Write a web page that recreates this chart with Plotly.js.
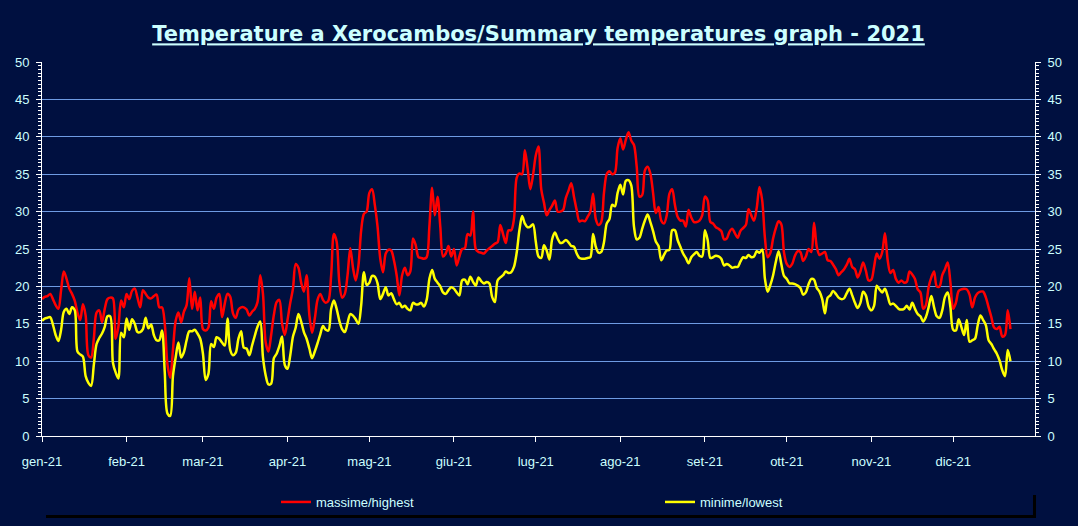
<!DOCTYPE html>
<html>
<head>
<meta charset="utf-8">
<script src="https://cdn.plot.ly/plotly-3.0.1.min.js"></script>
<style>
html,body{margin:0;padding:0;background:#001040;}
#chart{width:1078px;height:526px;}
</style>
</head>
<body>
<div id="chart"></div>
<script>
// Daily values from 1 Jan 2021 (day 0) to 22 Dec 2021
const highest = [
18.3,18.6,18.7,19.0,18.3,17.5,17.0,19.5,22.0,21.0,
19.7,19.0,18.1,16.5,15.5,17.6,16.1,10.8,10.5,13.0,
16.5,16.8,15.2,17.0,18.3,18.5,18.4,13.0,14.6,18.1,
17.2,19.0,18.3,19.4,19.7,18.5,17.2,19.5,19.0,18.5,
18.4,18.7,18.9,17.2,17.2,15.0,9.5,7.8,11.5,15.4,
16.5,15.2,16.6,17.5,21.1,17.0,19.3,16.8,18.5,14.3,
14.1,14.5,18.0,17.0,18.5,19.0,15.9,17.7,19.0,18.6,
16.4,15.8,16.9,17.2,17.2,16.9,16.1,16.6,17.0,17.9,
21.5,19.0,12.5,11.3,13.5,16.2,17.9,18.2,15.0,13.5,
15.5,17.8,19.7,23.0,22.5,20.5,19.3,21.5,16.2,13.8,
15.7,18.2,19.0,18.2,17.8,18.1,21.5,27.0,26.0,20.5,
18.5,19.0,21.5,25.1,22.5,20.8,22.8,27.5,29.7,30.0,
32.5,33.0,30.9,28.0,23.7,21.9,24.4,24.9,24.8,23.5,
21.5,18.8,21.5,22.5,21.5,22.0,26.4,25.5,23.9,23.8,
23.7,23.9,28.0,33.2,29.5,32.0,28.0,24.0,24.4,25.4,
24.0,25.0,22.8,24.0,25.0,25.1,27.0,26.8,30.0,25.0,
24.6,24.5,24.4,24.8,25.1,25.4,25.7,25.9,28.2,27.0,
25.8,27.5,27.5,29.0,34.5,35.1,35.0,38.2,35.8,33.0,
34.9,37.5,38.7,33.0,31.2,29.5,30.2,30.8,31.5,30.0,
30.0,30.2,31.8,32.8,33.8,32.0,30.2,28.7,28.8,28.7,
29.3,30.0,32.4,29.0,28.2,28.6,32.5,35.0,35.4,35.0,
35.2,38.5,39.8,38.3,39.6,40.6,39.5,38.9,36.0,32.0,
32.2,35.5,36.0,35.1,32.5,29.8,30.6,28.8,28.4,29.5,
32.4,33.0,30.9,29.3,28.8,28.8,28.0,30.2,29.2,28.6,
28.6,28.8,29.5,32.0,31.5,28.6,28.4,27.9,27.7,27.4,
26.3,26.4,27.3,27.7,27.1,26.5,27.4,27.8,28.2,30.3,
29.5,28.8,30.5,33.3,31.5,26.5,23.9,24.5,26.4,27.8,
28.7,28.3,24.5,23.0,22.6,23.0,24.1,24.7,24.6,23.4,
24.0,25.0,24.6,28.5,25.3,24.2,24.4,24.6,23.5,23.4,
22.9,22.3,21.5,21.9,22.3,22.9,23.7,22.6,22.3,21.2,
22.0,23.2,22.1,20.8,20.9,22.6,24.4,23.7,24.6,27.1,
23.5,21.8,22.2,21.0,20.5,20.8,20.5,20.6,22.0,21.6,
21.0,19.6,19.2,17.0,17.5,19.9,21.2,22.0,20.0,20.0,
21.5,22.3,23.2,20.5,17.0,17.8,19.4,19.6,19.7,19.6,
18.9,17.2,18.5,19.1,19.3,19.3,18.5,17.2,15.9,14.5,
14.3,14.6,13.3,13.5,16.8,14.3
];
const lowest = [
15.4,15.7,15.8,15.9,14.9,13.5,12.7,14.2,16.6,17.0,
16.3,17.2,16.8,11.3,10.9,10.6,8.0,7.1,6.7,9.5,
12.3,13.1,13.7,14.6,16.0,16.0,9.8,8.5,7.7,13.8,
13.2,15.7,14.2,15.6,15.0,13.9,13.9,14.3,15.8,14.4,
14.9,13.5,12.8,12.8,14.1,8.5,3.0,2.7,8.0,10.5,
12.5,10.5,11.2,12.8,14.0,14.0,14.2,13.7,13.0,11.0,
7.5,8.3,12.3,11.9,13.2,13.0,12.5,12.1,15.7,11.5,
10.8,11.1,13.0,14.0,11.8,11.7,10.8,12.1,13.4,14.6,
15.3,10.5,8.1,6.9,7.0,10.4,11.0,12.0,13.3,9.5,
9.0,10.8,13.3,14.5,16.3,15.3,13.9,13.0,11.7,10.4,
11.3,12.4,13.6,14.7,14.2,14.1,17.0,18.1,17.0,15.4,
14.3,13.9,15.1,16.3,16.1,15.6,15.0,17.5,21.9,20.2,
20.5,21.4,21.3,20.4,18.3,19.0,19.9,18.8,19.1,18.3,
17.6,17.8,17.2,17.4,17.0,16.8,17.8,17.6,17.6,17.8,
17.3,18.2,21.0,22.2,21.0,20.5,20.0,19.2,19.0,19.5,
19.9,19.7,19.2,18.8,20.8,20.9,20.3,21.3,20.6,20.1,
21.2,20.7,20.4,20.6,20.4,18.6,17.9,20.8,21.2,21.5,
22.0,21.8,21.9,22.6,24.5,27.5,29.4,28.4,27.9,28.0,
28.3,26.0,24.0,23.8,25.5,24.8,23.6,26.3,27.2,26.4,
25.8,25.9,26.2,25.9,25.4,25.3,24.4,23.8,23.7,23.7,
23.8,23.9,27.0,25.3,24.5,24.6,25.9,28.4,29.0,30.9,
30.7,32.5,33.6,32.3,34.1,34.2,33.5,28.0,26.3,26.5,
27.7,28.8,29.6,28.6,27.4,26.0,25.4,23.5,24.2,24.8,
24.9,27.5,27.5,26.2,25.3,24.4,23.8,23.1,23.9,24.3,
24.6,24.1,24.0,27.5,26.2,23.8,23.9,24.1,24.0,23.7,
22.8,23.0,22.8,22.5,22.6,22.6,23.3,23.9,23.8,24.2,
23.9,24.0,24.7,24.5,24.9,21.0,19.3,20.2,21.5,23.3,
24.7,23.0,21.4,21.0,20.4,20.4,20.3,20.1,19.8,18.9,
19.2,20.3,21.0,20.9,19.8,19.3,18.3,16.4,18.5,18.8,
19.4,19.0,18.5,18.3,18.4,19.1,19.7,18.8,17.8,17.1,
17.8,19.3,18.8,17.3,16.8,17.4,20.1,19.6,19.2,19.7,
18.7,17.6,17.7,17.4,17.0,16.9,17.0,17.4,16.9,17.8,
17.0,16.3,16.0,15.3,15.9,17.2,18.7,17.2,16.0,15.8,
16.8,18.6,19.2,17.2,14.2,14.1,15.6,14.6,13.5,15.5,
12.6,12.8,13.0,14.8,16.1,15.5,14.8,12.8,12.3,11.6,
11.0,10.1,8.8,8.0,11.5,10.0
];
const monthTicks = ['2021-01-01','2021-02-01','2021-03-01','2021-04-01','2021-05-01','2021-06-01','2021-07-01','2021-08-01','2021-09-01','2021-10-01','2021-11-01','2021-12-01'];
const monthLabels = ['gen-21','feb-21','mar-21','apr-21','mag-21','giu-21','lug-21','ago-21','set-21','ott-21','nov-21','dic-21'];
const seriesNames = ['massime/highest','minime/lowest'];

const start = Date.UTC(2021,0,1);
const dates = highest.map((_, i) => new Date(start + i*86400000).toISOString().slice(0,10));

const BG = '#001040';
const TXT = '#CCFFFF';
const GRID = '#6E9BE3';

const traces = [
  {x: dates, y: highest, name: seriesNames[0], type:'scatter', mode:'lines', legend:'legend',
   line:{color:'#FF0000', width:2.5, shape:'spline', smoothing:0.9}},
  {x: dates, y: lowest, name: seriesNames[1], type:'scatter', mode:'lines', legend:'legend2',
   line:{color:'#FFFF00', width:2.5, shape:'spline', smoothing:0.9}},
  {x: [dates[0]], y: [null], yaxis:'y2', showlegend:false, hoverinfo:'skip', type:'scatter', mode:'lines'}
];

// plot area spans 42..1035 px horizontally, 62..436 px vertically
const px = v => (v-42)/993;
const py = v => (436-v)/374;

const legendFont = {family:'Liberation Sans', size:13, color:TXT};
const legendBase = {orientation:'h', xanchor:'left', yanchor:'middle', bgcolor:'rgba(0,0,0,0)',
  borderwidth:0, font:legendFont, itemwidth:30, tracegroupgap:0};

const layout = {
  width:1078, height:526,
  paper_bgcolor:BG, plot_bgcolor:BG,
  margin:{l:42, r:43, t:62, b:90, autoexpand:false},
  title:{text:'Temperature a Xerocambos/Summary temperatures graph - 2021',
    x:0.5, xref:'paper', xanchor:'center', y:1-34/526, yref:'container', yanchor:'middle',
    font:{family:'DejaVu Sans', size:21, color:TXT, weight:'bold', lineposition:'under'}},
  font:{family:'Liberation Sans', size:13, color:TXT},
  xaxis:{type:'date', range:['2021-01-01','2021-12-31'], tickvals:monthTicks, ticktext:monthLabels,
    showgrid:false, zeroline:false, showline:true, linecolor:'#FFFFFF', linewidth:1,
    ticks:'outside', ticklen:5, tickcolor:'#FFFFFF', ticklabelstandoff:8,
    tickfont:{family:'Liberation Sans', size:13, color:TXT}, fixedrange:true},
  yaxis:{range:[0,50], dtick:5, tick0:0, showgrid:true, gridcolor:GRID, gridwidth:1,
    zeroline:false, showline:true, linecolor:'#FFFFFF', linewidth:1,
    ticks:'outside', ticklen:5, tickcolor:'#FFFFFF', ticklabelstandoff:4,
    minor:{dtick:0.5, ticks:'outside', ticklen:3, tickcolor:'#FFFFFF', showgrid:false},
    tickfont:{family:'Liberation Sans', size:13, color:TXT}},
  yaxis2:{range:[0,50], dtick:5, tick0:0, overlaying:'y', side:'right', showgrid:false,
    zeroline:false, showline:true, linecolor:'#FFFFFF', linewidth:1,
    ticks:'outside', ticklen:5, tickcolor:'#FFFFFF', ticklabelstandoff:4,
    minor:{dtick:0.5, ticks:'outside', ticklen:3, tickcolor:'#FFFFFF', showgrid:false},
    tickfont:{family:'Liberation Sans', size:13, color:TXT}},
  showlegend:true,
  legend:Object.assign({}, legendBase, {x:px(276), y:py(502)}),
  legend2:Object.assign({}, legendBase, {x:px(660), y:py(502)}),
  shapes:[
    {type:'rect', xref:'paper', yref:'paper', x0:px(46), x1:px(1036), y0:py(495), y1:py(518),
     fillcolor:'#000000', line:{width:0}, layer:'below'},
    {type:'rect', xref:'paper', yref:'paper', x0:px(43), x1:px(1033), y0:py(492), y1:py(515),
     fillcolor:BG, line:{width:0}, layer:'below'}
  ]
};

Plotly.newPlot('chart', traces, layout, {displayModeBar:false, staticPlot:true});
</script>
</body>
</html>
